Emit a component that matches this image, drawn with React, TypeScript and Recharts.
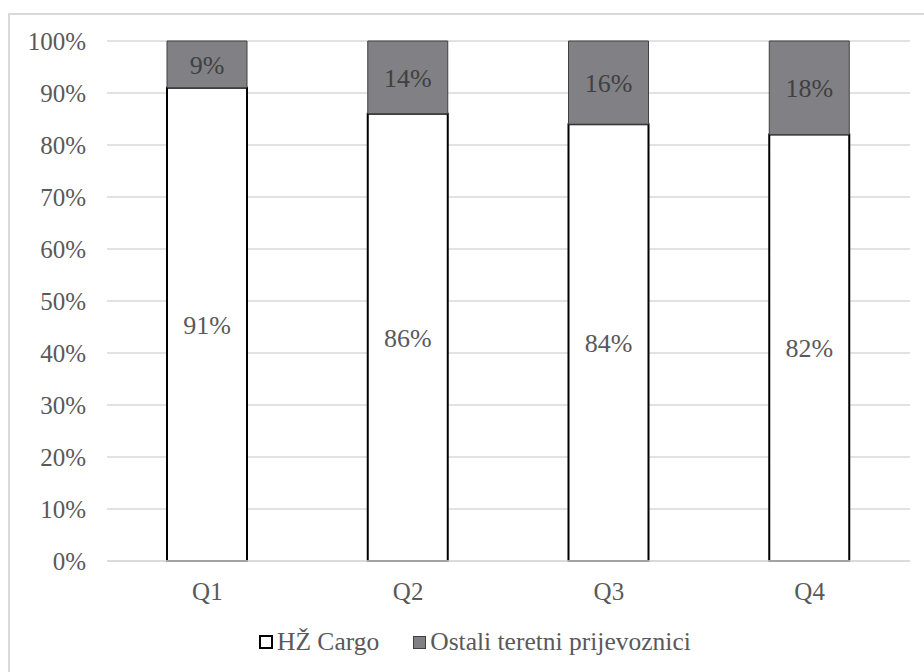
import React from "react";
import {
  BarChart,
  Bar,
  XAxis,
  YAxis,
  CartesianGrid,
  LabelList,
  Legend,
} from "recharts";

const QUARTERS = ["Q1", "Q2", "Q3", "Q4"];
const HZ_CARGO = [91, 86, 84, 82];
const OSTALI = [9, 14, 16, 18];
const Y_TICKS = [0, 10, 20, 30, 40, 50, 60, 70, 80, 90, 100];

const SERIES_NAMES = ["HŽ Cargo", "Ostali teretni prijevoznici"];

const FONT = '"Liberation Serif", "Times New Roman", serif';
const TEXT_GRAY = "#595959";
const GRID = "#d9d9d9";
const BAR_GRAY = "#808085";

const chartData = QUARTERS.map((q, i) => ({
  quarter: q,
  hz: HZ_CARGO[i],
  ostali: OSTALI[i],
}));

const pct = (v: any) => `${v}%`;

const LegendBox = () => (
  <div
    style={{
      display: "flex",
      alignItems: "center",
      paddingLeft: 259,
      fontFamily: FONT,
      fontSize: 25.5,
      color: TEXT_GRAY,
      lineHeight: "30px",
    }}
  >
    <span
      style={{
        width: 10,
        height: 10,
        border: "2px solid #000",
        background: "#fff",
        marginRight: 4,
        display: "inline-block",
      }}
    />
    <span style={{ marginRight: 34 }}>{SERIES_NAMES[0]}</span>
    <span
      style={{
        width: 11,
        height: 11,
        border: "1px solid #404040",
        background: BAR_GRAY,
        marginRight: 4,
        display: "inline-block",
      }}
    />
    <span>{SERIES_NAMES[1]}</span>
  </div>
);

export default function App() {
  return (
    <div
      style={{
        position: "absolute",
        left: 0,
        top: 0,
        width: 924,
        height: 672,
        background: "#fff",
        overflow: "hidden",
      }}
    >
      <div
        style={{
          position: "absolute",
          left: 8,
          top: 13,
          width: 1000,
          height: 800,
          borderLeft: `2px solid ${GRID}`,
          borderTop: `2px solid ${GRID}`,
        }}
      />
      <div style={{ position: "absolute", left: 0, top: 0 }}>
        <BarChart
          width={924}
          height={672}
          data={chartData}
          margin={{ top: 41, right: 14, bottom: 71, left: 0 }}
        >
          <CartesianGrid
            vertical={false}
            stroke={GRID}
            strokeWidth={1.5}
          />
          <XAxis
            dataKey="quarter"
            tickLine={false}
            axisLine={{ stroke: GRID, strokeWidth: 1.5 }}
            tickSize={0}
            tickMargin={21}
            height={40}
            tick={{ fill: TEXT_GRAY, fontSize: 25, fontFamily: FONT }}
          />
          <YAxis
            width={107}
            domain={[0, 100]}
            ticks={Y_TICKS}
            interval={0}
            tickFormatter={pct}
            tickLine={false}
            axisLine={false}
            tickSize={0}
            tickMargin={21}
            tick={{ fill: TEXT_GRAY, fontSize: 25, fontFamily: FONT }}
          />
          <Legend
            verticalAlign="middle"
            content={() => <LegendBox />}
            wrapperStyle={{ top: 627, left: 0, width: 924 }}
          />
          <Bar
            dataKey="hz"
            name={SERIES_NAMES[0]}
            stackId="a"
            fill="#fff"
            stroke="#000"
            strokeWidth={2}
            barSize={80}
            isAnimationActive={false}
          >
            <LabelList
              dataKey="hz"
              position="center"
              formatter={pct}
              style={{ fill: TEXT_GRAY, fontSize: 26, fontFamily: FONT }}
            />
          </Bar>
          <Bar
            dataKey="ostali"
            name={SERIES_NAMES[1]}
            stackId="a"
            fill={BAR_GRAY}
            stroke="#404040"
            strokeWidth={1}
            barSize={80}
            isAnimationActive={false}
          >
            <LabelList
              dataKey="ostali"
              position="center"
              formatter={pct}
              style={{ fill: "#404040", fontSize: 26, fontFamily: FONT }}
            />
          </Bar>
        </BarChart>
      </div>
    </div>
  );
}
